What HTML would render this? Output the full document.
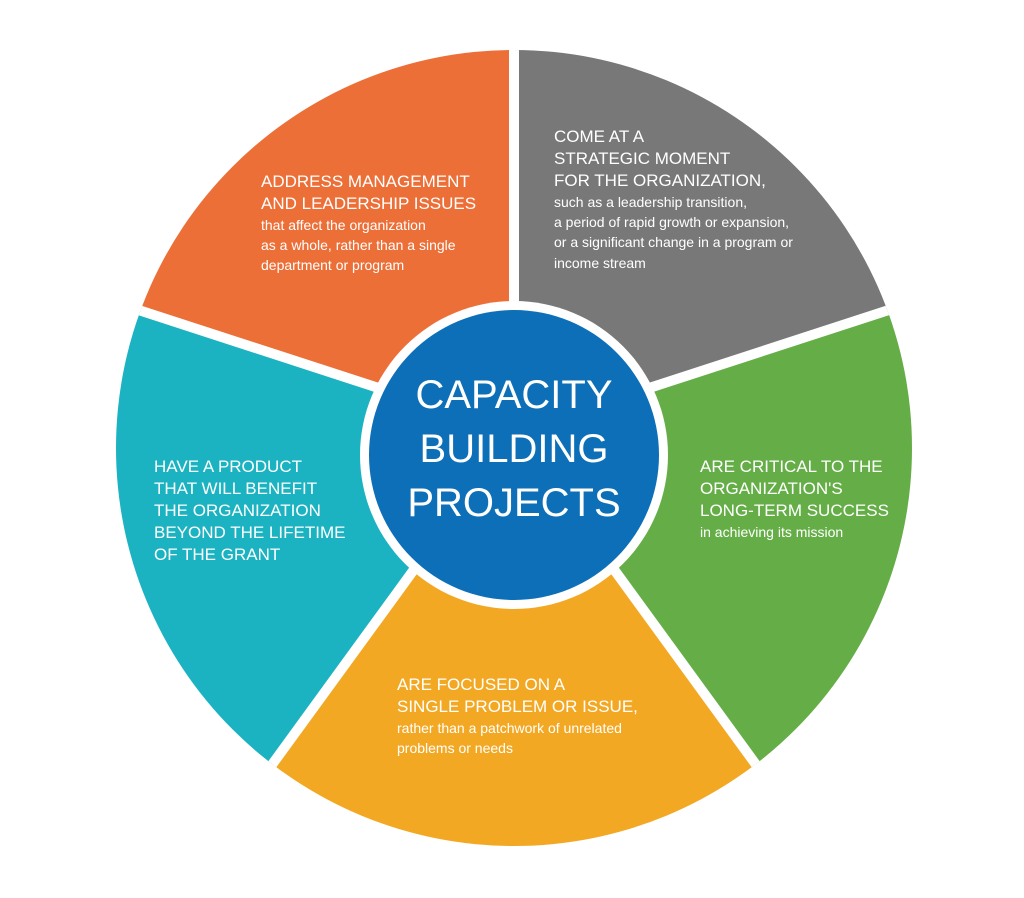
<!DOCTYPE html>
<html><head><style>
html,body{margin:0;padding:0;background:#fff;width:1024px;height:898px;overflow:hidden;}
svg{display:block;}
text{font-family:"Liberation Sans",sans-serif;fill:#fff;}
.h{font-size:17px;}
.s{font-size:14px;}
.c{font-size:40px;font-weight:300;}
</style></head><body>
<svg width="1024" height="898" viewBox="0 0 1024 898" style="overflow:hidden">
<defs><clipPath id="cp"><circle cx="514" cy="448" r="398"/></clipPath></defs>
<g clip-path="url(#cp)">
<polygon points="514,432 514,0 0,0 0,265" fill="#EC6F37"/>
<polygon points="514,432 1024,266 1024,0 514,0" fill="#787878"/>
<polygon points="514,432 853,898 1024,898 1024,266" fill="#65AE47"/>
<polygon points="514,432 175,898 853,898" fill="#F3A823"/>
<polygon points="514,432 0,265 0,898 175,898" fill="#1BB3C1"/>
<g stroke="#fff" stroke-width="10">
<line x1="514" y1="432" x2="514" y2="0"/>
<line x1="514" y1="432" x2="1024" y2="266"/>
<line x1="514" y1="432" x2="853" y2="898"/>
<line x1="514" y1="432" x2="175" y2="898"/>
<line x1="514" y1="432" x2="0" y2="265"/>
</g>
</g>
<circle cx="514" cy="455" r="154" fill="#fff"/>
<circle cx="514" cy="455" r="145" fill="#0C6FB7"/>
<text class="c" x="514" y="408" text-anchor="middle">CAPACITY</text>
<text class="c" x="514" y="462" text-anchor="middle">BUILDING</text>
<text class="c" x="514" y="516" text-anchor="middle">PROJECTS</text>

<text class="h" x="261" y="187">ADDRESS MANAGEMENT</text>
<text class="h" x="261" y="209">AND LEADERSHIP ISSUES</text>
<text class="s" x="261" y="230">that affect the organization</text>
<text class="s" x="261" y="250">as a whole, rather than a single</text>
<text class="s" x="261" y="270">department or program</text>

<text class="h" x="554" y="142">COME AT A</text>
<text class="h" x="554" y="164">STRATEGIC MOMENT</text>
<text class="h" x="554" y="186">FOR THE ORGANIZATION,</text>
<text class="s" x="554" y="207">such as a leadership transition,</text>
<text class="s" x="554" y="227">a period of rapid growth or expansion,</text>
<text class="s" x="554" y="247">or a significant change in a program or</text>
<text class="s" x="554" y="268">income stream</text>

<text class="h" x="700" y="472">ARE CRITICAL TO THE</text>
<text class="h" x="700" y="494">ORGANIZATION'S</text>
<text class="h" x="700" y="516">LONG-TERM SUCCESS</text>
<text class="s" x="700" y="537">in achieving its mission</text>

<text class="h" x="154" y="472">HAVE A PRODUCT</text>
<text class="h" x="154" y="494">THAT WILL BENEFIT</text>
<text class="h" x="154" y="516">THE ORGANIZATION</text>
<text class="h" x="154" y="538">BEYOND THE LIFETIME</text>
<text class="h" x="154" y="560">OF THE GRANT</text>

<text class="h" x="397" y="690">ARE FOCUSED ON A</text>
<text class="h" x="397" y="712">SINGLE PROBLEM OR ISSUE,</text>
<text class="s" x="397" y="733">rather than a patchwork of unrelated</text>
<text class="s" x="397" y="753">problems or needs</text>
</svg>
</body></html>
